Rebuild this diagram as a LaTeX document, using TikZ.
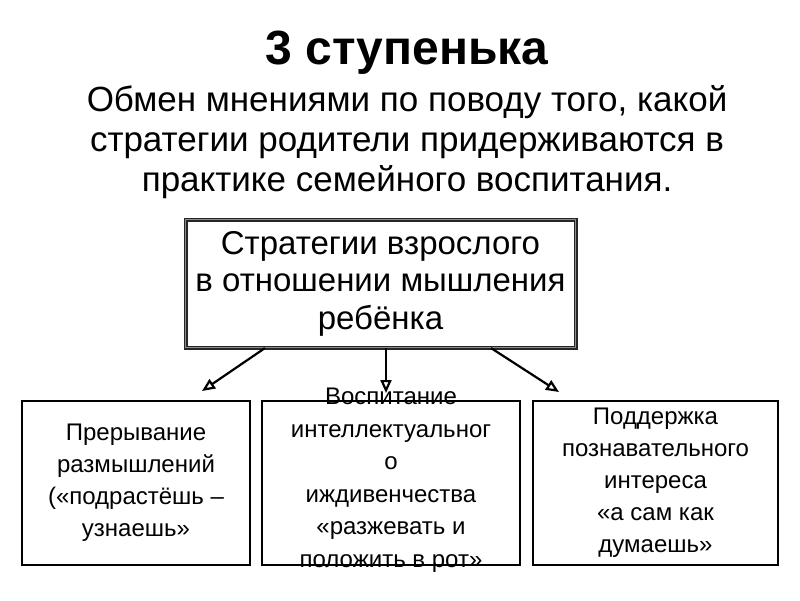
\documentclass[tikz,border=0pt]{standalone}
\usepackage{fontspec}
\setmainfont{Liberation Sans}
\usetikzlibrary{arrows.meta}
\tikzset{
  leaf/.style={draw, line width=1.8pt, minimum height=164pt, inner sep=0pt, align=center, font=\fontsize{24}{32}\selectfont},
  branch/.style={line width=2.2pt, -{Triangle[open, length=13pt, width=11pt]}}
}
\begin{document}
\begin{tikzpicture}[x=1pt,y=-1pt]
    \useasboundingbox (0,0) rectangle (800,600);
    \node[font=\fontsize{48}{52}\selectfont\bfseries] (title) at (407,53) {3 ступенька};
    \node[align=center, font=\fontsize{35}{40}\selectfont] (sub) at (407,142) {Обмен мнениями по поводу того, какой\\стратегии родители придерживаются в\\практике семейного воспитания.};
    \node[draw=black!85, line width=1.2pt, double=black!45, double distance=1.6pt, minimum width=390pt, minimum height=128pt, inner sep=0pt, align=center, font=\fontsize{33}{37.5}\selectfont] (top) at (380.5,283.5) {Стратегии взрослого\\в отношении мышления\\ребёнка};
    \node[leaf, minimum width=228pt] (left) at (136,483) {Прерывание\\размышлений\\(«подрастёшь –\\узнаешь»};
    \node[leaf, minimum width=258pt] (mid) at (391,483) {};
    \node[align=center, font=\fontsize{24}{32.5}\selectfont] (midtext) at (391,480) {Воспитание\\интеллектуальног\\о\\иждивенчества\\«разжевать и\\положить в рот»};
    \node[leaf, minimum width=245pt] (right) at (655.5,483) {Поддержка\\познавательного\\интереса\\«а сам как\\думаешь»};
    % arrow ends
    \coordinate (endl) at (202,391);
    \coordinate (endm) at (386,393);
    \coordinate (endr) at (559,392);
    \draw[branch] ([xshift=80pt]top.south west) -- (endl);
    \draw[branch] ([xshift=5.5pt]top.south) -- (endm);
    \draw[branch] ([xshift=-85pt]top.south east) -- (endr);
\end{tikzpicture}
\end{document}
